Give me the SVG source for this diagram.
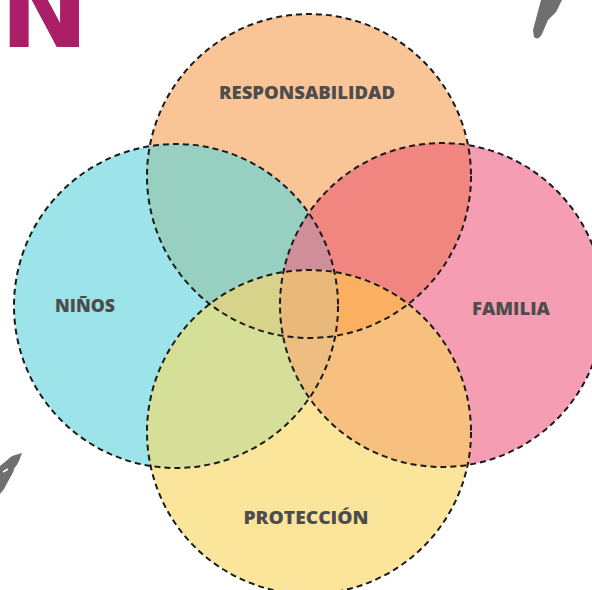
<svg xmlns="http://www.w3.org/2000/svg" width="592" height="590" viewBox="0 0 592 590">
<style>
.lbl{font-family:"Open Sans","DejaVu Sans",sans-serif;font-weight:800;font-size:18px;fill:#4d4d4d;text-anchor:middle}
.ring{fill:none;stroke:#1a1a1a;stroke-width:2;stroke-dasharray:6 4}
.brush{fill:#6f6f6f}
</style>
<defs>
<clipPath id="cO"><circle cx="309" cy="176" r="162"/></clipPath>
<clipPath id="cC"><circle cx="176" cy="306" r="162"/></clipPath>
<clipPath id="cP"><circle cx="442" cy="305" r="162"/></clipPath>
<clipPath id="cY"><circle cx="309" cy="432" r="162"/></clipPath>
</defs>
<rect width="592" height="590" fill="#ffffff"/>
<text x="0" y="47" font-family="DejaVu Sans, sans-serif" font-weight="bold" font-size="106" fill="#ab1f69">N</text>
<path class="brush" d="M541,0 L562,0 L556,12 L548,20 L542,34 Q538,41 534,37 L533,30 Z"/>
<path class="brush" d="M0,466 L12,456 L22,453 L19,461 L11,476 L4,489 L0,494 Z"/>
<path d="M3,472 L8,469 M9,482 L12,477 M14,470 L17,466" stroke="#ffffff" stroke-width="1.5" fill="none"/>
<g id="fills">
<circle cx="309" cy="176" r="162" fill="#f9c597"/>
<circle cx="176" cy="306" r="162" fill="#9ce4e9"/>
<circle cx="442" cy="305" r="162" fill="#f59db2"/>
<circle cx="309" cy="432" r="162" fill="#fbe59b"/>
<circle cx="176" cy="306" r="162" fill="#97d0c1" clip-path="url(#cO)"/>
<circle cx="442" cy="305" r="162" fill="#f18580" clip-path="url(#cO)"/>
<circle cx="309" cy="432" r="162" fill="#f7c07f" clip-path="url(#cP)"/>
<circle cx="309" cy="432" r="162" fill="#d6df97" clip-path="url(#cC)"/>
<g clip-path="url(#cC)"><circle cx="442" cy="305" r="162" fill="#cf8e9a" clip-path="url(#cO)"/></g>
<g clip-path="url(#cO)"><circle cx="442" cy="305" r="162" fill="#fbaf60" clip-path="url(#cY)"/></g>
<g clip-path="url(#cY)"><circle cx="176" cy="306" r="162" fill="#d8d38a" clip-path="url(#cO)"/></g>
<g clip-path="url(#cY)"><circle cx="176" cy="306" r="162" fill="#edbe80" clip-path="url(#cP)"/></g>
<g clip-path="url(#cY)"><g clip-path="url(#cO)"><circle cx="176" cy="306" r="162" fill="#e8b978" clip-path="url(#cP)"/></g></g>
</g>
<g id="connectors">
<circle class="ring" cx="309" cy="176" r="162"/>
<circle class="ring" cx="176" cy="306" r="162"/>
<circle class="ring" cx="442" cy="305" r="162"/>
<circle class="ring" cx="309" cy="432" r="162"/>
</g>
<g id="responsabilidad"><text class="lbl" x="307" y="99" textLength="176" lengthAdjust="spacingAndGlyphs">RESPONSABILIDAD</text></g>
<g id="ninos"><text class="lbl" x="85" y="312" textLength="60" lengthAdjust="spacingAndGlyphs">NIÑOS</text></g>
<g id="familia"><text class="lbl" x="511" y="315" textLength="78" lengthAdjust="spacingAndGlyphs">FAMILIA</text></g>
<g id="proteccion"><text class="lbl" x="306" y="524" textLength="125" lengthAdjust="spacingAndGlyphs">PROTECCIÓN</text></g>
</svg>
